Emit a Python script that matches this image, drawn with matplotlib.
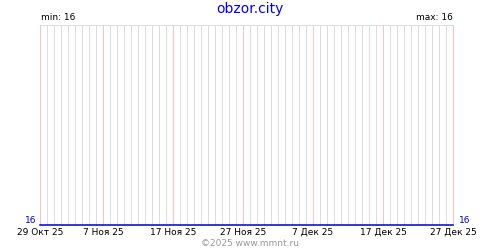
import datetime

import matplotlib
matplotlib.use('Agg')
import matplotlib.pyplot as plt
import matplotlib.dates as mdates

# data
start = datetime.date(2025, 10, 29)
n_days = 60
dates = [start + datetime.timedelta(days=i) for i in range(n_days)]
values = [16] * n_days
tick_dates = [datetime.date(2025, 10, 29), datetime.date(2025, 11, 7), datetime.date(2025, 11, 17),
              datetime.date(2025, 11, 27), datetime.date(2025, 12, 7), datetime.date(2025, 12, 17),
              datetime.date(2025, 12, 27)]
tick_labels = ['29 Окт 25', '7 Ноя 25', '17 Ноя 25', '27 Ноя 25', '7 Дек 25', '17 Дек 25', '27 Дек 25']
title = 'obzor.city'
footer = '©2025 www.mmnt.ru'

fig = plt.figure(figsize=(5, 2.5), dpi=100)
ax = fig.add_axes([0.08, 0.1, 0.826, 0.8])
ax.set_xlim(mdates.date2num(dates[0]), mdates.date2num(dates[-1]))
ax.set_ylim(16, 17)

for d in dates:
    x = mdates.date2num(d)
    red = d in tick_dates
    ax.axvline(x, color='#ffc0c0' if red else '#dddddd', lw=0.6, zorder=2 if red else 1,
               snap=True, antialiased=False, clip_on=False)
ax.axhline(17, color='#dddddd', lw=0.6, zorder=1, snap=True, antialiased=False, clip_on=False)

ax.plot(mdates.date2num(dates), values, color='#0000cc', lw=1.1, zorder=3, clip_on=False)

for s in ax.spines.values():
    s.set_visible(False)
ax.set_yticks([])
ax.set_xticks(mdates.date2num(tick_dates))
ax.set_xticklabels(tick_labels, fontsize=6.5)
ax.tick_params(axis='x', length=0, pad=2)

ax.text(-0.008, 0, str(min(values)), transform=ax.transAxes, ha='right', va='bottom',
        fontsize=6.5, color='#0000cc')
ax.text(1.015, 0, str(max(values)), transform=ax.transAxes, ha='left', va='bottom',
        fontsize=6.5, color='#0000cc')
ax.text(0.002, 1.015, 'min: %d' % min(values), transform=ax.transAxes, ha='left', va='bottom', fontsize=6.5)
ax.text(1.0, 1.015, 'max: %d' % max(values), transform=ax.transAxes, ha='right', va='bottom', fontsize=6.5)

fig.text(0.5, 0.965, title, ha='center', va='center', fontsize=10, color='#0000ff')
fig.text(0.5, 0.028, footer, ha='center', va='center', fontsize=6.5, color='#999999')

fig.savefig('out.png', dpi=100)
